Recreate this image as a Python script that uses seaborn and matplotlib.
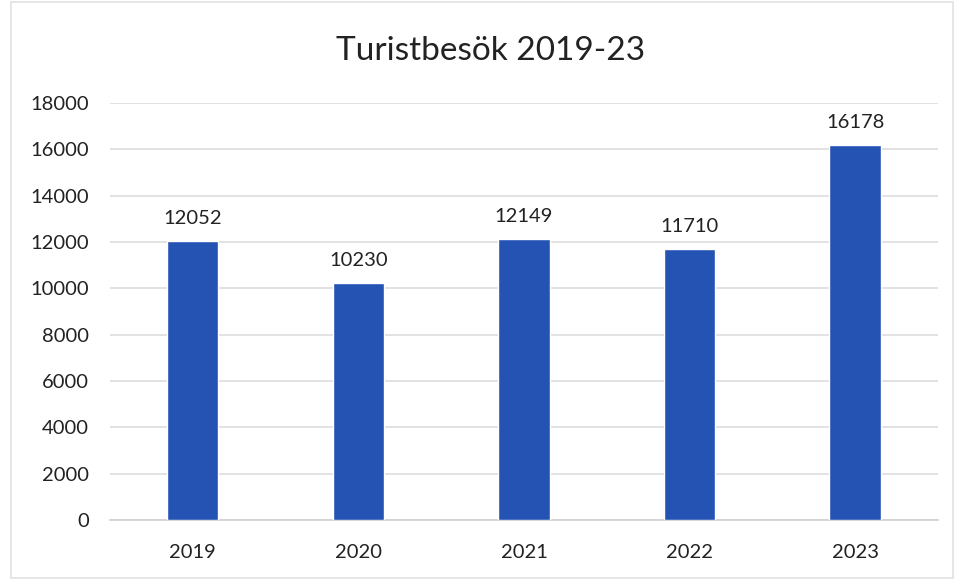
import matplotlib
matplotlib.use("Agg")
import matplotlib.pyplot as plt
import seaborn as sns
import pandas as pd
from matplotlib.patches import Rectangle

years = ["2019", "2020", "2021", "2022", "2023"]
visits = [12052, 10230, 12149, 11710, 16178]
yticks = [0, 2000, 4000, 6000, 8000, 10000, 12000, 14000, 16000, 18000]

sns.set_theme(style="white")
plt.rcParams['font.family'] = ['Lato', 'DejaVu Sans']

df = pd.DataFrame({"year": years, "visits": visits})

fig = plt.figure(figsize=(9.57, 5.82), dpi=100)
ax = fig.add_axes([0.115, 0.1065, 0.865, 0.7165])
sns.barplot(data=df, x="year", y="visits", color="#2453B4", width=0.31,
            saturation=1, ax=ax, zorder=3)

ax.set_ylim(0, 18000)
ax.set_yticks(yticks)
ax.set_yticklabels([str(t) for t in yticks])
ax.set_xlim(-0.5, 4.5)
ax.yaxis.grid(True, color="#DDDDDD", linewidth=1.2, zorder=0)
ax.set_axisbelow(True)
for s in ["top", "right", "left"]:
    ax.spines[s].set_visible(False)
ax.spines["bottom"].set_color("#D0D0D0")
ax.spines["bottom"].set_linewidth(1.2)
ax.tick_params(axis="both", length=0, labelsize=14.5, colors="#222222")
ax.tick_params(axis="y", pad=15)
ax.tick_params(axis="x", pad=17)
ax.set_xlabel("")
ax.set_ylabel("")

for i, v in enumerate(visits):
    ax.text(i, v + 600, str(v), ha="center", va="bottom", fontsize=14.5, color="#222222")

fig.text(0.513, 0.912, "Turistbesök 2019-23", ha="center", va="center", fontsize=24, color="#222222")

fig.patches.append(Rectangle((0.011, 0.007), 0.985, 0.99, transform=fig.transFigure,
                             fill=False, edgecolor="#E2E2E2", linewidth=1.2))

fig.savefig("out.png", dpi=100)
